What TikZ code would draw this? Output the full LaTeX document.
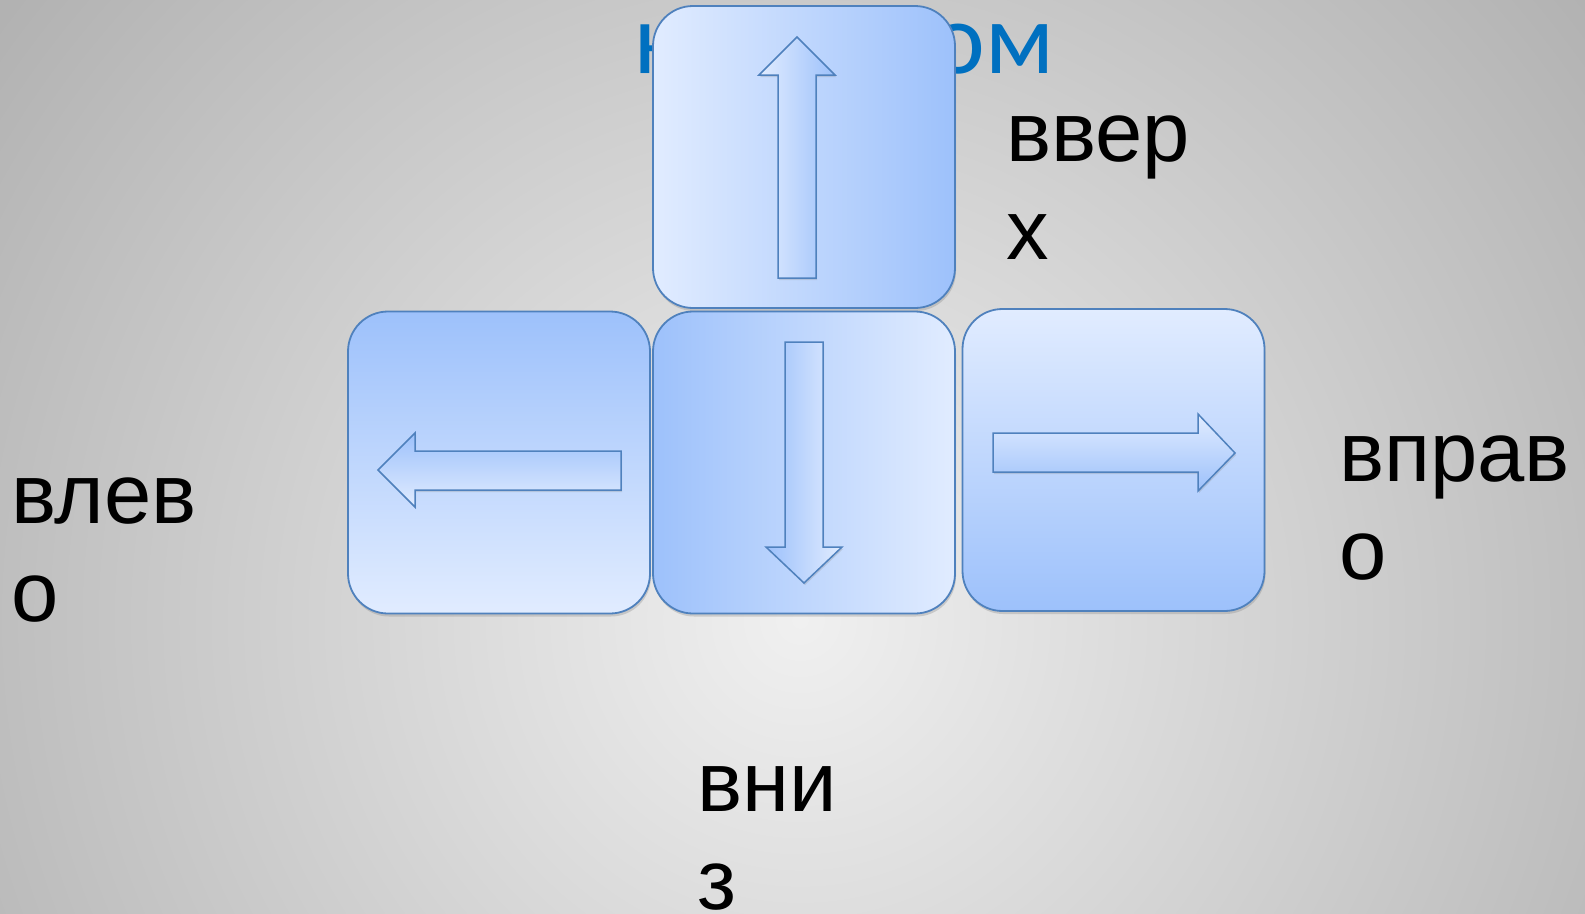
\documentclass[tikz,border=0pt]{standalone}
\usepackage{fontspec}
\setmainfont{Liberation Sans}
\newfontfamily\titlefont{Carlito}
\usetikzlibrary{shadows}

\definecolor{keylight}{RGB}{225,236,255}
\definecolor{keydark}{RGB}{157,193,251}
\definecolor{keyline}{RGB}{79,129,189}
\definecolor{titleblue}{RGB}{0,112,192}
\definecolor{bgcentre}{RGB}{240,240,240}
\definecolor{bgedge}{RGB}{178,178,178}

\tikzset{
  keybox/.style={draw=keyline, line width=1.8pt, rounded corners=40pt,
    minimum size=302pt, inner sep=0pt,
    drop shadow={shadow xshift=1pt, shadow yshift=-3pt, opacity=0.3}},
  arrowbox/.style={draw=keyline, line width=1.5pt,
    drop shadow={shadow xshift=1pt, shadow yshift=-2pt, opacity=0.25}},
  dirtext/.style={anchor=base west, align=left, inner sep=0pt,
    font=\fontsize{85}{98}\selectfont}
}

\begin{document}
\begin{tikzpicture}[x=1pt, y=-1pt]
	\useasboundingbox (0,0) rectangle (1585,913);
	% background
	\begin{scope}
		\clip (0,0) rectangle (1585,913);
		\shade[inner color=bgcentre, outer color=bgedge] (-200,-380) rectangle (1800,1620);
	\end{scope}

	% title, mostly hidden by the up key
	\node[anchor=base west, inner sep=0pt, text=titleblue,
		font=\titlefont\fontsize{102}{120}\selectfont] (title) at (634,73) {курсором};

	% keys
	\node[keybox, left color=keylight, right color=keydark] (keyup) at (804,157) {};
	\node[keybox, top color=keydark, bottom color=keylight] (keyleft) at (499,462.5) {};
	\node[keybox, left color=keydark, right color=keylight] (keydown) at (804,462.5) {};
	\node[keybox, top color=keylight, bottom color=keydark] (keyright) at (1113.5,460) {};

	% arrows on the keys
	\draw[arrowbox, left color=keylight, right color=keydark, shift={(keyup.center)}]
		(-7,-120) -- (31,-82) -- (12,-82) -- (12,121) -- (-26,121) -- (-26,-82) -- (-45,-82) -- cycle;
	\draw[arrowbox, top color=keydark, bottom color=keylight, shift={(keyleft.center)}]
		(-121,7.5) -- (-84,-29.5) -- (-84,-11.5) -- (122,-11.5) -- (122,27.5) -- (-84,27.5) -- (-84,44.5) -- cycle;
	\draw[arrowbox, left color=keydark, right color=keylight, shift={(keydown.center)}]
		(0,120.5) -- (-38,84.5) -- (-19,84.5) -- (-19,-120.5) -- (19,-120.5) -- (19,84.5) -- (38,84.5) -- cycle;
	\draw[arrowbox, top color=keylight, bottom color=keydark, shift={(keyright.center)}]
		(121.5,-7) -- (84.5,-46) -- (84.5,-27) -- (-120.5,-27) -- (-120.5,12) -- (84.5,12) -- (84.5,31) -- cycle;

	% words (anchored on the baseline of their last line)
	\node[dirtext] (upword) at (1006,259) {ввер\\х};
	\node[dirtext] (leftword) at (11,621) {влев\\о};
	\node[dirtext] (rightword) at (1339,579) {вправ\\о};
	\node[dirtext] (downword) at (697,909) {вни\\з};
\end{tikzpicture}
\end{document}
